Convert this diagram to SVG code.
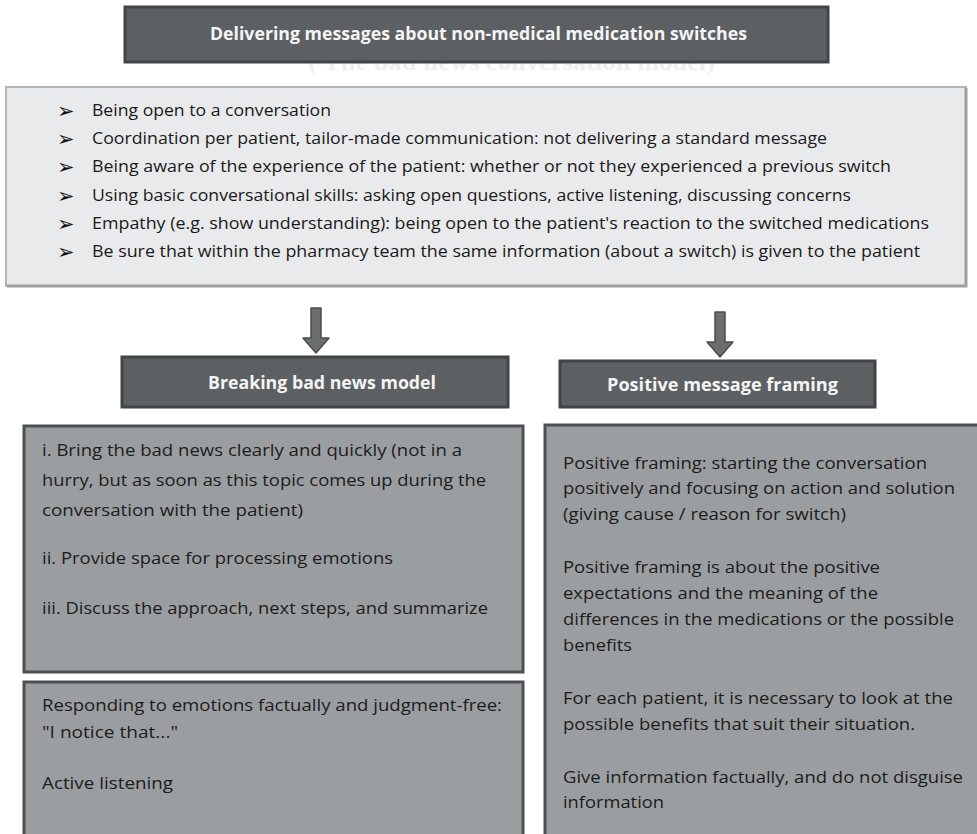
<svg xmlns="http://www.w3.org/2000/svg" width="977" height="834" viewBox="0 0 977 834">
<defs>
<style>
.hdr{fill:#5c6062;stroke:#414547;stroke-width:3}
.hdrt{font-family:"Open Sans","Liberation Sans",sans-serif;font-weight:bold;font-size:17px;fill:#f4f4f4}
.lst{font-family:"Open Sans","Liberation Sans",sans-serif;font-size:17px;fill:#1a1a1a}
.bul{font-family:"DejaVu Sans",sans-serif;font-size:21px;fill:#111}
.box{fill:#9b9ea0;stroke:#4c5052;stroke-width:3}
.bt{font-family:"Open Sans","Liberation Sans",sans-serif;font-size:17px;fill:#1c1c1c}
.arr{fill:#6c6f71;stroke:#4a4d4f;stroke-width:1.5;stroke-linejoin:round}
</style>
</defs>
<rect width="977" height="834" fill="#ffffff"/>

<text x="308" y="70" textLength="407" lengthAdjust="spacingAndGlyphs" style="font-family:'Liberation Serif',serif;font-weight:bold;font-size:24px;fill:#eceef2">( The bad news conversation model)</text>

<g id="title">
<rect class="hdr" x="125" y="7" width="703" height="55"/>
<text class="hdrt" x="210" y="40" textLength="537" lengthAdjust="spacingAndGlyphs">Delivering messages about non-medical medication switches</text>
</g>

<g id="principles">
<rect x="6" y="87" width="960" height="199" fill="#e9eaeb" stroke="#b3b6b8" stroke-width="2"/>
<polyline points="966,88 966,286 7,286" fill="none" stroke="#9c9fa1" stroke-width="3"/>
<text class="bul" x="57" y="118">➢</text>
<text class="bul" x="57" y="146">➢</text>
<text class="bul" x="57" y="174">➢</text>
<text class="bul" x="57" y="203">➢</text>
<text class="bul" x="57" y="231">➢</text>
<text class="bul" x="57" y="259">➢</text>
<text class="lst" x="92" y="116" textLength="239" lengthAdjust="spacingAndGlyphs">Being open to a conversation</text>
<text class="lst" x="92" y="144" textLength="735" lengthAdjust="spacingAndGlyphs">Coordination per patient, tailor-made communication: not delivering a standard message</text>
<text class="lst" x="92" y="172" textLength="799" lengthAdjust="spacingAndGlyphs">Being aware of the experience of the patient: whether or not they experienced a previous switch</text>
<text class="lst" x="92" y="201" textLength="759" lengthAdjust="spacingAndGlyphs">Using basic conversational skills: asking open questions, active listening, discussing concerns</text>
<text class="lst" x="92" y="229" textLength="837" lengthAdjust="spacingAndGlyphs">Empathy (e.g. show understanding): being open to the patient's reaction to the switched medications</text>
<text class="lst" x="92" y="257" textLength="828" lengthAdjust="spacingAndGlyphs">Be sure that within the pharmacy team the same information (about a switch) is given to the patient</text>
</g>

<g id="connectors">
<path class="arr" d="M311,308 H321 V338 H329 L316,353 L303,338 H311 Z"/>
<path class="arr" d="M715,312 H725 V342 H733 L720,357 L707,342 H715 Z"/>
</g>

<g id="bbn-header">
<rect class="hdr" x="122" y="357" width="386" height="50"/>
<text class="hdrt" x="208" y="389" textLength="228" lengthAdjust="spacingAndGlyphs">Breaking bad news model</text>
</g>

<g id="pmf-header">
<rect class="hdr" x="560" y="361" width="315" height="46"/>
<text class="hdrt" x="607" y="391" textLength="231" lengthAdjust="spacingAndGlyphs">Positive message framing</text>
</g>

<g id="bbn-steps">
<rect class="box" x="24" y="426" width="499" height="246"/>
<text class="bt" x="42" y="456" textLength="420" lengthAdjust="spacingAndGlyphs">i. Bring the bad news clearly and quickly (not in a</text>
<text class="bt" x="42" y="486" textLength="444" lengthAdjust="spacingAndGlyphs">hurry, but as soon as this topic comes up during the</text>
<text class="bt" x="42" y="516" textLength="261" lengthAdjust="spacingAndGlyphs">conversation with the patient)</text>
<text class="bt" x="42" y="564" textLength="351" lengthAdjust="spacingAndGlyphs">ii. Provide space for processing emotions</text>
<text class="bt" x="42" y="614" textLength="446" lengthAdjust="spacingAndGlyphs">iii. Discuss the approach, next steps, and summarize</text>
</g>

<g id="bbn-emotions">
<rect class="box" x="24" y="682" width="499" height="170"/>
<text class="bt" x="42" y="711" textLength="460" lengthAdjust="spacingAndGlyphs">Responding to emotions factually and judgment-free:</text>
<text class="bt" x="42" y="738" textLength="136" lengthAdjust="spacingAndGlyphs">"I notice that..."</text>
<text class="bt" x="42" y="789" textLength="131" lengthAdjust="spacingAndGlyphs">Active listening</text>
</g>

<g id="pmf-content">
<rect class="box" x="545" y="425" width="450" height="430"/>
<text class="bt" x="563" y="469" textLength="364" lengthAdjust="spacingAndGlyphs">Positive framing: starting the conversation</text>
<text class="bt" x="563" y="494" textLength="392" lengthAdjust="spacingAndGlyphs">positively and focusing on action and solution</text>
<text class="bt" x="563" y="520" textLength="283" lengthAdjust="spacingAndGlyphs">(giving cause / reason for switch)</text>
<text class="bt" x="563" y="573" textLength="317" lengthAdjust="spacingAndGlyphs">Positive framing is about the positive</text>
<text class="bt" x="563" y="599" textLength="315" lengthAdjust="spacingAndGlyphs">expectations and the meaning of the</text>
<text class="bt" x="563" y="625" textLength="391" lengthAdjust="spacingAndGlyphs">differences in the medications or the possible</text>
<text class="bt" x="563" y="651" textLength="69" lengthAdjust="spacingAndGlyphs">benefits</text>
<text class="bt" x="563" y="704" textLength="390" lengthAdjust="spacingAndGlyphs">For each patient, it is necessary to look at the</text>
<text class="bt" x="563" y="730" textLength="352" lengthAdjust="spacingAndGlyphs">possible benefits that suit their situation.</text>
<text class="bt" x="563" y="783" textLength="400" lengthAdjust="spacingAndGlyphs">Give information factually, and do not disguise</text>
<text class="bt" x="563" y="808" textLength="101" lengthAdjust="spacingAndGlyphs">information</text>
</g>
</svg>
